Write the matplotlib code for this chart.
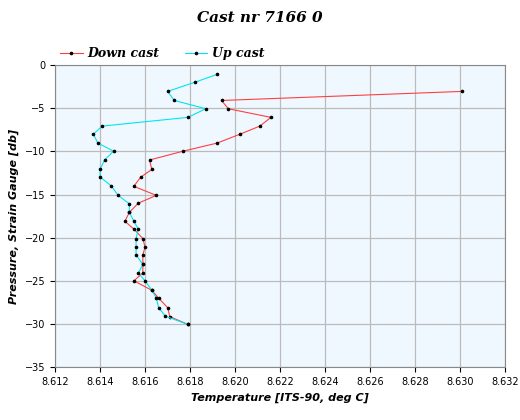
import matplotlib.pyplot as plt

# Down cast (red) and up cast (cyan) profiles
down_temp = [8.6301, 8.6194, 8.6197, 8.6216, 8.6211, 8.6202, 8.6192, 8.6177, 8.6162, 8.6163,
             8.6158, 8.6155, 8.6165, 8.6157, 8.6153, 8.6151, 8.6155, 8.6159, 8.6160, 8.6159,
             8.6159, 8.6159, 8.6155, 8.6163, 8.6166, 8.6170, 8.6171, 8.6179]
down_pres = [-3.05, -4.1, -5.06, -6.06, -7.07, -8.03, -9.04, -9.97, -11.0, -12.1,
             -13.0, -14.05, -15.1, -16.0, -17.07, -18.1, -19.0, -20.1, -21.1, -22.0,
             -23.1, -24.1, -25.0, -26.1, -27.0, -28.1, -29.15, -30.05]
up_temp = [8.6192, 8.6182, 8.6170, 8.6173, 8.6187, 8.6179, 8.6141, 8.6137, 8.6139, 8.6146,
           8.6142, 8.6140, 8.6140, 8.6145, 8.6148, 8.6153, 8.6153, 8.6155, 8.6157, 8.6156,
           8.6156, 8.6156, 8.6159, 8.6157, 8.6160, 8.6163, 8.6165, 8.6166, 8.6169, 8.6179]
up_pres = [-1.08, -2.0, -3.05, -4.1, -5.06, -6.06, -7.07, -8.0, -9.04, -9.97,
           -11.0, -12.05, -12.98, -14.0, -15.1, -16.07, -17.07, -18.1, -19.0, -20.1,
           -21.1, -22.0, -23.1, -24.1, -25.0, -26.1, -27.0, -28.1, -29.1, -30.05]

fig = plt.figure(figsize=(5.2, 4.2), dpi=100)
ax = fig.add_axes([0.106, 0.126, 0.865, 0.719])
ax.set_facecolor('#f0f8ff')

ax.plot(down_temp, down_pres, color='#ff4040', lw=0.8, marker='o', ms=1.6,
        mfc='black', mec='black', label='Down cast')
ax.plot(up_temp, up_pres, color='#00e5ee', lw=0.8, marker='o', ms=1.6,
        mfc='black', mec='black', label='Up cast')

ax.set_xlim(8.612, 8.632)
ax.set_ylim(-35, 0)
ax.set_xticks([8.612 + 0.002 * i for i in range(11)])
ax.set_xticklabels([f"{8.612 + 0.002 * i:.3f}" for i in range(11)], fontsize=7)
ax.set_yticks(range(-35, 1, 5))
ax.tick_params(axis='y', labelsize=7)
ax.grid(color='#bbbbbb', lw=0.9)
for s in ax.spines.values():
    s.set_color('#888888')

ax.set_xlabel('Temperature [ITS-90, deg C]', fontsize=8, fontstyle='italic', fontweight='bold')
ax.set_ylabel('Pressure, Strain Gauge [db]', fontsize=8, fontstyle='italic', fontweight='bold')
fig.suptitle('Cast nr 7166 0', x=0.5, y=0.975, fontsize=11,
             family='DejaVu Serif', style='italic', weight='bold')
ax.legend(loc='lower left', bbox_to_anchor=(0.0, 1.0), ncol=2, frameon=False,
          prop=dict(family='DejaVu Serif', style='italic', weight='bold', size=9),
          handlelength=1.8, handletextpad=0.4, columnspacing=2.0, borderaxespad=0)

fig.savefig('out.png')
